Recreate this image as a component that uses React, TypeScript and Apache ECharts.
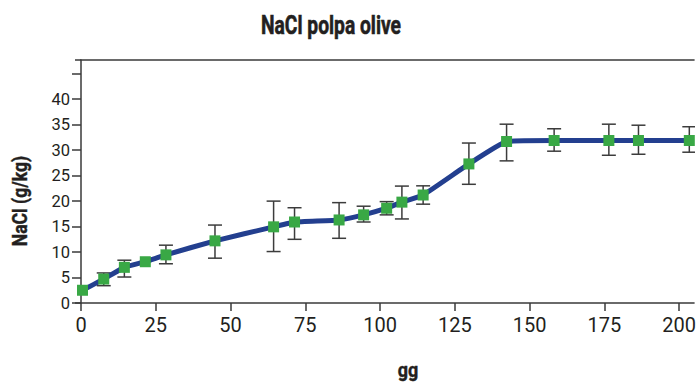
import React, { useEffect, useRef } from "react";
import * as echarts from "echarts";

const titleText = "NaCl polpa olive";
const xName = "gg";
const yName = "NaCl (g/kg)";
const xValues = [0.5, 7.6, 14.5, 21.5, 28.4, 44.8, 64.4, 71.4, 86.3, 94.5, 102.2, 107.3, 114.4, 129.7, 142.3, 158.2, 176.5, 186.4, 203.4];
const naclValues = [2.5, 4.7, 7.0, 8.1, 9.45, 12.2, 14.95, 15.9, 16.3, 17.3, 18.6, 19.8, 21.2, 27.3, 31.7, 31.9, 31.9, 31.9, 31.9];
const errLow = [null, 3.4, 5.1, null, 7.7, 8.8, 10.1, 12.5, 12.7, 15.9, 17.3, 16.5, 19.4, 23.3, 27.9, 29.8, 29.0, 29.2, 29.6];
const errHigh = [null, 5.9, 8.4, null, 11.35, 15.3, 20.0, 18.7, 19.7, 19.0, 19.9, 22.95, 23.0, 31.4, 35.1, 34.2, 35.1, 34.9, 34.6];
const xMin = 0;
const xMax = 205;
const xInterval = 25;
const yMin = 0;
const yMax = 47.7;
const yInterval = 5;

const FONT = "Roboto, 'Liberation Sans', sans-serif";
const AXIS_COLOR = "#3a3a3a";
const TEXT_COLOR = "#231f20";

export default function App() {
  const ref = useRef<HTMLDivElement>(null);
  useEffect(() => {
    if (!ref.current) return;
    const chart = echarts.init(ref.current, null, { renderer: "svg" });
    const lineData = xValues.map((x, i) => [x, naclValues[i]]);
    const errData = xValues
      .map((x, i) => [x, errLow[i], errHigh[i]])
      .filter((d) => d[1] !== null && d[2] !== null);
    chart.setOption({
      animation: false,
      backgroundColor: "#ffffff",
      textStyle: { fontFamily: FONT },
      grid: { left: 81, right: 0, top: 60, bottom: 81, containLabel: false },
      xAxis: [
        {
          type: "value",
          min: xMin,
          max: xMax,
          interval: xInterval,
          position: "bottom",
          axisLine: { show: true, onZero: false, lineStyle: { color: AXIS_COLOR, width: 1.5 } },
          axisTick: { show: true, length: 8, lineStyle: { color: AXIS_COLOR, width: 1.5 } },
          axisLabel: { color: TEXT_COLOR, fontSize: 20, margin: 12, fontFamily: FONT, showMaxLabel: false },
          splitLine: { show: false },
        },
        {
          type: "value",
          min: xMin,
          max: xMax,
          position: "top",
          axisLine: { show: true, onZero: false, lineStyle: { color: AXIS_COLOR, width: 1.5 } },
          axisTick: { show: false },
          axisLabel: { show: false },
          splitLine: { show: false },
        },
      ],
      yAxis: [
        {
          type: "value",
          min: yMin,
          max: yMax,
          interval: yInterval,
          position: "left",
          axisLine: { show: true, onZero: false, lineStyle: { color: AXIS_COLOR, width: 1.5 } },
          axisTick: { show: true, length: 9, lineStyle: { color: AXIS_COLOR, width: 1.5 } },
          axisLabel: {
            color: TEXT_COLOR,
            fontSize: 16.5,
            margin: 11,
            fontFamily: FONT,
            showMaxLabel: false,
            formatter: (v: number) => (v % 5 === 0 && v <= 40 ? String(v) : ""),
          },
          splitLine: { show: false },
        },
        {
          type: "value",
          min: yMin,
          max: yMax,
          interval: yMax,
          position: "left",
          axisLine: { show: false },
          axisTick: { show: true, length: 6, lineStyle: { color: AXIS_COLOR, width: 1.5 } },
          axisLabel: { show: false },
          splitLine: { show: false },
        },
      ],
      graphic: [
        {
          type: "text",
          x: 331,
          y: 25,
          scaleX: 0.74,
          style: {
            text: titleText,
            fill: TEXT_COLOR,
            stroke: TEXT_COLOR,
            lineWidth: 0.6,
            font: `bold 26px ${FONT}`,
            align: "center",
            verticalAlign: "middle",
          },
        },
        {
          type: "text",
          x: 21,
          y: 201,
          rotation: Math.PI / 2,
          scaleX: 0.88,
          style: {
            text: yName,
            fill: TEXT_COLOR,
            stroke: TEXT_COLOR,
            lineWidth: 0.4,
            font: `bold 20px ${FONT}`,
            align: "center",
            verticalAlign: "middle",
          },
        },
        {
          type: "text",
          x: 408,
          y: 360,
          scaleX: 0.9,
          style: {
            text: xName,
            fill: TEXT_COLOR,
            stroke: TEXT_COLOR,
            lineWidth: 0.4,
            font: `bold 20px ${FONT}`,
            align: "center",
            verticalAlign: "top",
          },
        },
      ],
      series: [
        {
          type: "custom",
          xAxisIndex: 0,
          yAxisIndex: 0,
          z: 1,
          clip: true,
          data: errData,
          renderItem: (params: any, api: any) => {
            const x = api.value(0);
            const lo = api.coord([x, api.value(1)]);
            const hi = api.coord([x, api.value(2)]);
            const hw = 7;
            const style = { stroke: "#3c3c3c", lineWidth: 1.5 };
            return {
              type: "group",
              children: [
                { type: "line", shape: { x1: lo[0], y1: lo[1], x2: hi[0], y2: hi[1] }, style },
                { type: "line", shape: { x1: hi[0] - hw, y1: hi[1], x2: hi[0] + hw, y2: hi[1] }, style },
                { type: "line", shape: { x1: lo[0] - hw, y1: lo[1], x2: lo[0] + hw, y2: lo[1] }, style },
              ],
            };
          },
        },
        {
          type: "line",
          xAxisIndex: 0,
          yAxisIndex: 0,
          z: 2,
          data: lineData,
          smooth: 0.12,
          symbol: "rect",
          symbolSize: 11,
          lineStyle: { color: "#233f8f", width: 5 },
          itemStyle: { color: "#39a845", borderWidth: 0 },
        },
      ],
    });
    return () => chart.dispose();
  }, []);
  return <div ref={ref} style={{ position: "fixed", left: 0, top: 0, width: 699, height: 384 }} />;
}
